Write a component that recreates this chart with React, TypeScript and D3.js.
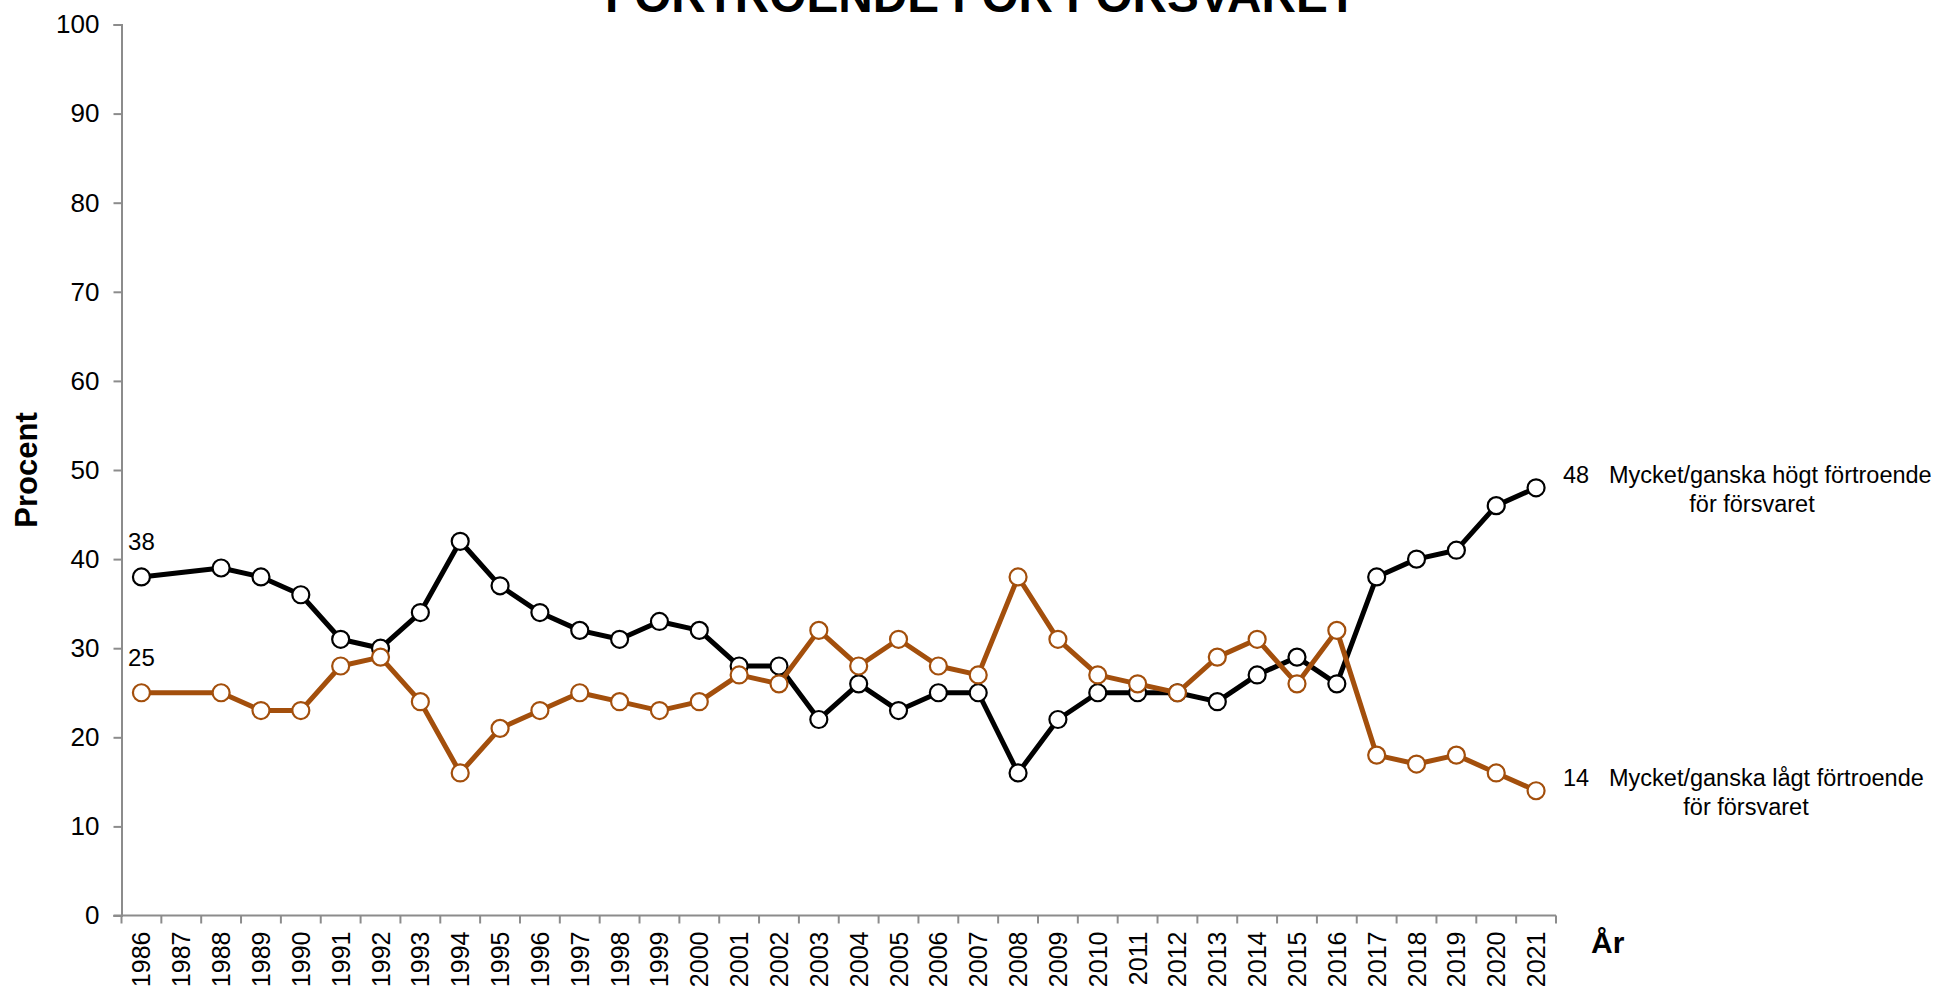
import { useEffect, useRef } from 'react';
import * as d3 from 'd3';

const years = [
  '1986', '1987', '1988', '1989', '1990', '1991', '1992', '1993', '1994', '1995',
  '1996', '1997', '1998', '1999', '2000', '2001', '2002', '2003', '2004', '2005',
  '2006', '2007', '2008', '2009', '2010', '2011', '2012', '2013', '2014', '2015',
  '2016', '2017', '2018', '2019', '2020', '2021',
];

// högt förtroende (black), 1987 saknas
const highValues: (number | null)[] = [
  38, null, 39, 38, 36, 31, 30, 34, 42, 37,
  34, 32, 31, 33, 32, 28, 28, 22, 26, 23,
  25, 25, 16, 22, 25, 25, 25, 24, 27, 29,
  26, 38, 40, 41, 46, 48,
];

// lågt förtroende (brown)
const lowValues: (number | null)[] = [
  25, null, 25, 23, 23, 28, 29, 24, 16, 21,
  23, 25, 24, 23, 24, 27, 26, 32, 28, 31,
  28, 27, 38, 31, 27, 26, 25, 29, 31, 26,
  32, 18, 17, 18, 16, 14,
];

const yTicks = [0, 10, 20, 30, 40, 50, 60, 70, 80, 90, 100];

const seriesNames = ['Mycket/ganska högt förtroende', 'Mycket/ganska lågt förtroende'];
const seriesSub = 'för försvaret';
const title = 'FÖRTROENDE FÖR FÖRSVARET';

const FONT = "'Liberation Sans', Arial, sans-serif";
const BROWN = '#A34F0C';
const AXIS = '#8c8c8c';

export default function App() {
  const svgRef = useRef<SVGSVGElement>(null);

  useEffect(() => {
    const width = 1942;
    const height = 990;
    const svg = d3.select(svgRef.current)
      .attr('width', width)
      .attr('height', height)
      .style('font-family', FONT);

    svg.selectAll('*').remove();

    const x = d3.scaleBand().domain(years).range([121.5, 1556]);
    const y = d3.scaleLinear().domain([0, 100]).range([915.5, 24.5]);
    const cx = (yr: string) => (x(yr) as number) + x.bandwidth() / 2;

    // title (cut at the top like the original)
    svg.append('text')
      .attr('x', 981)
      .attr('y', 12)
      .attr('text-anchor', 'middle')
      .attr('font-size', 48)
      .attr('font-weight', 'bold')
      .attr('textLength', 752)
      .attr('lengthAdjust', 'spacingAndGlyphs')
      .text(title);

    // y axis
    const yAxis = svg.append('g').attr('transform', `translate(${x.range()[0]},0)`)
      .call(d3.axisLeft(y).tickValues(yTicks).tickSize(8).tickPadding(14));
    yAxis.select('.domain').attr('stroke', AXIS).attr('stroke-width', 2);
    yAxis.selectAll('.tick line').attr('stroke', AXIS).attr('stroke-width', 2);
    yAxis.selectAll('.tick text')
      .attr('font-size', 26)
      .attr('font-family', FONT)
      .attr('fill', '#000');

    // x axis: ticks at category boundaries
    const xg = svg.append('g').attr('transform', `translate(0,${y(0)})`);
    xg.append('line')
      .attr('x1', x.range()[0] - 8).attr('x2', x.range()[1])
      .attr('stroke', AXIS).attr('stroke-width', 2);
    const bounds = years.map(yr => x(yr) as number).concat([x.range()[1]]);
    xg.selectAll('line.tk')
      .data(bounds)
      .enter()
      .append('line')
      .attr('class', 'tk')
      .attr('x1', d => d).attr('x2', d => d)
      .attr('y1', 0).attr('y2', 8)
      .attr('stroke', AXIS).attr('stroke-width', 2);
    xg.selectAll('text')
      .data(years)
      .enter()
      .append('text')
      .attr('transform', d => `translate(${cx(d) + 9},16) rotate(-90)`)
      .attr('text-anchor', 'end')
      .attr('font-size', 25)
      .text(d => d);

    // axis titles
    svg.append('text')
      .attr('transform', 'translate(37,470) rotate(-90)')
      .attr('text-anchor', 'middle')
      .attr('font-size', 31)
      .attr('font-weight', 'bold')
      .text('Procent');
    svg.append('text')
      .attr('x', 1591)
      .attr('y', 953)
      .attr('font-size', 30)
      .attr('font-weight', 'bold')
      .text('År');

    const series = [
      { values: highValues, color: '#000' },
      { values: lowValues, color: BROWN },
    ];

    const line = d3.line<{ yr: string; v: number }>()
      .x(d => cx(d.yr))
      .y(d => y(d.v));

    series.forEach(s => {
      const pts = years
        .map((yr, i) => ({ yr, v: s.values[i] }))
        .filter(d => d.v != null) as { yr: string; v: number }[];

      svg.append('path')
        .datum(pts)
        .attr('d', line)
        .attr('fill', 'none')
        .attr('stroke', s.color)
        .attr('stroke-width', 5)
        .attr('stroke-linejoin', 'round');

      svg.selectAll(null)
        .data(pts)
        .enter()
        .append('circle')
        .attr('cx', d => cx(d.yr))
        .attr('cy', d => y(d.v))
        .attr('r', 8.5)
        .attr('fill', '#fff')
        .attr('stroke', s.color)
        .attr('stroke-width', 2.2);
    });

    // start labels
    [highValues[0], lowValues[0]].forEach(v => {
      svg.append('text')
        .attr('x', cx(years[0]))
        .attr('y', y(v as number) - 27)
        .attr('text-anchor', 'middle')
        .attr('font-size', 24)
        .text(String(v));
    });

    // end labels with series names
    const last = years.length - 1;
    const endLabels = [
      { v: highValues[last] as number, name: seriesNames[0], subX: 1752 },
      { v: lowValues[last] as number, name: seriesNames[1], subX: 1746 },
    ];
    endLabels.forEach(l => {
      const by = y(l.v) - 5;
      svg.append('text')
        .attr('x', 1563)
        .attr('y', by)
        .attr('font-size', 23.5)
        .text(String(l.v));
      svg.append('text')
        .attr('x', 1609)
        .attr('y', by)
        .attr('font-size', 23.5)
        .text(l.name);
      svg.append('text')
        .attr('x', l.subX)
        .attr('y', by + 29)
        .attr('text-anchor', 'middle')
        .attr('font-size', 23.5)
        .text(seriesSub);
    });
  }, []);

  return (
    <div style={{ position: 'absolute', left: 0, top: 0, width: 1942, height: 990, background: '#fff' }}>
      <svg ref={svgRef} style={{ display: 'block' }}></svg>
    </div>
  );
}
